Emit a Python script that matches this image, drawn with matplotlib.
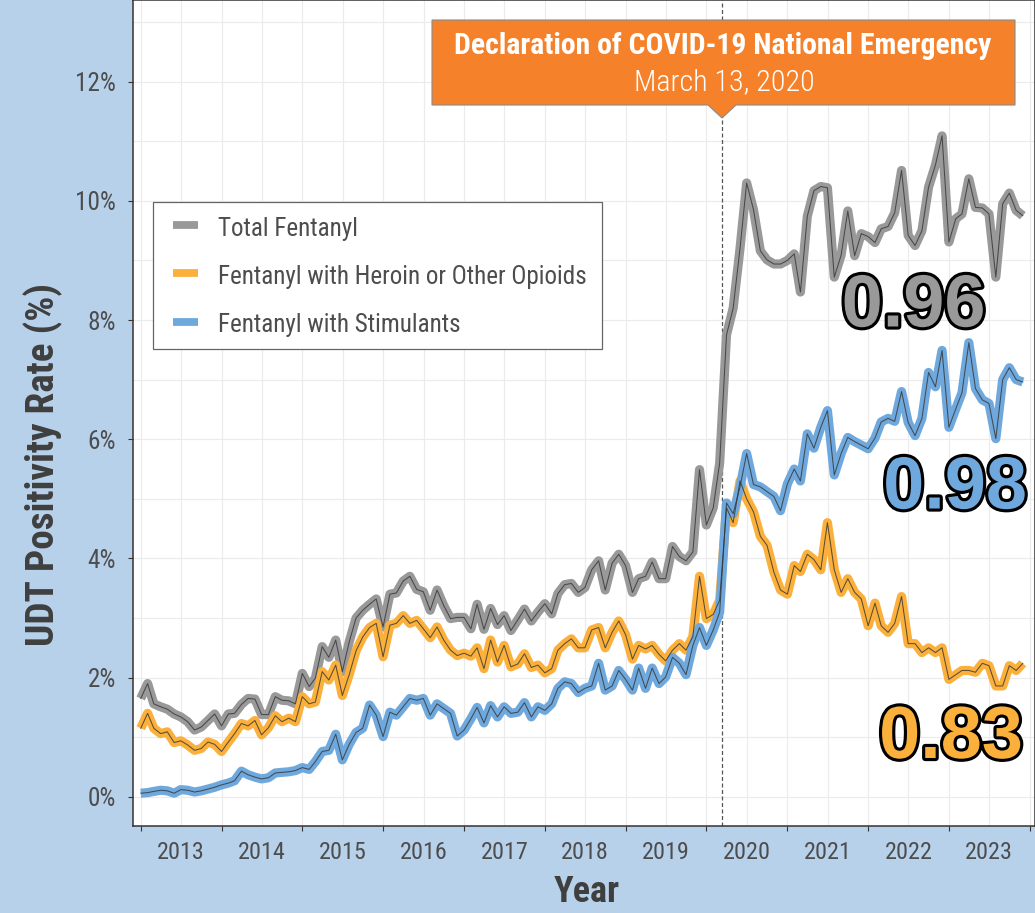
import numpy as np
import pandas as pd
import matplotlib
matplotlib.use("Agg")
import matplotlib.pyplot as plt
import matplotlib.dates as mdates
import matplotlib.ticker as mticker
import matplotlib.font_manager as fm
import matplotlib.patheffects as pe
from matplotlib.textpath import TextPath
from matplotlib.patches import Polygon, Rectangle
from matplotlib.lines import Line2D

# ------------------------------------------------------------------ data
first_month = "2013-01-01"          # monthly series, Jan 2013 .. Dec 2023

total_fentanyl = [
    1.65, 1.90, 1.56, 1.51, 1.47, 1.39, 1.34, 1.26, 1.12, 1.17, 1.28, 1.39,   # 2013
    1.19, 1.39, 1.40, 1.55, 1.65, 1.64, 1.38, 1.38, 1.68, 1.62, 1.61, 1.56,   # 2014
    2.07, 1.85, 1.99, 2.52, 2.34, 2.63, 2.10, 2.60, 3.00, 3.13, 3.23, 3.32,   # 2015
    2.85, 3.40, 3.42, 3.62, 3.70, 3.48, 3.44, 3.13, 3.47, 3.21, 2.99, 3.01,   # 2016
    3.01, 2.82, 3.23, 2.81, 3.16, 2.89, 3.04, 2.79, 2.97, 3.15, 2.95, 3.10,   # 2017
    3.24, 3.07, 3.41, 3.56, 3.58, 3.43, 3.51, 3.81, 3.96, 3.47, 3.92, 4.07,   # 2018
    3.88, 3.43, 3.66, 3.70, 3.94, 3.66, 3.66, 4.20, 4.03, 3.96, 4.11, 5.49,   # 2019
    4.56, 4.85, 5.60, 7.75, 8.20, 9.20, 10.30, 9.85, 9.16, 9.01, 8.94, 8.94,  # 2020
    9.00, 9.11, 8.47, 9.74, 10.17, 10.24, 10.22, 8.72, 9.09, 9.83, 9.08, 9.45,  # 2021
    9.40, 9.30, 9.53, 9.57, 9.80, 10.51, 9.42, 9.25, 9.50, 10.23, 10.60, 11.09,  # 2022
    9.31, 9.70, 9.78, 10.37, 9.89, 9.88, 9.78, 8.72, 9.95, 10.13, 9.84, 9.75,  # 2023
]

fentanyl_heroin_opioids = [
    1.15, 1.40, 1.15, 1.06, 1.09, 0.91, 0.94, 0.87, 0.78, 0.81, 0.92, 0.88,   # 2013
    0.76, 0.92, 1.06, 1.23, 1.19, 1.28, 1.04, 1.16, 1.36, 1.26, 1.32, 1.26,   # 2014
    1.68, 1.56, 1.59, 2.10, 1.96, 2.21, 1.70, 2.05, 2.45, 2.68, 2.84, 2.91,   # 2015
    2.35, 2.88, 2.91, 3.04, 2.91, 2.96, 2.82, 2.67, 2.85, 2.63, 2.46, 2.37,   # 2016
    2.41, 2.36, 2.50, 2.15, 2.63, 2.26, 2.54, 2.18, 2.23, 2.40, 2.17, 2.21,   # 2017
    2.08, 2.15, 2.46, 2.57, 2.65, 2.50, 2.50, 2.80, 2.84, 2.50, 2.76, 2.95,   # 2018
    2.72, 2.31, 2.54, 2.48, 2.54, 2.39, 2.28, 2.46, 2.57, 2.46, 2.69, 3.70,   # 2019
    2.99, 3.06, 3.30, 4.85, 4.60, 5.30, 5.00, 4.78, 4.37, 4.22, 3.77, 3.47,   # 2020
    3.40, 3.88, 3.78, 4.07, 3.98, 3.81, 4.60, 3.81, 3.43, 3.66, 3.43, 3.32,   # 2021
    2.87, 3.25, 2.87, 2.76, 2.91, 3.36, 2.57, 2.57, 2.42, 2.50, 2.42, 2.50,   # 2022
    1.97, 2.05, 2.12, 2.12, 2.09, 2.24, 2.20, 1.86, 1.86, 2.20, 2.12, 2.24,   # 2023
]

fentanyl_stimulants = [
    0.06, 0.07, 0.09, 0.11, 0.10, 0.06, 0.12, 0.11, 0.08, 0.10, 0.13, 0.16,   # 2013
    0.20, 0.23, 0.27, 0.43, 0.37, 0.33, 0.30, 0.32, 0.40, 0.41, 0.42, 0.44,   # 2014
    0.49, 0.46, 0.59, 0.76, 0.78, 1.05, 0.62, 0.88, 1.08, 1.15, 1.54, 1.37,   # 2015
    1.01, 1.42, 1.37, 1.51, 1.65, 1.62, 1.65, 1.37, 1.56, 1.48, 1.40, 1.02,   # 2016
    1.12, 1.31, 1.50, 1.24, 1.53, 1.34, 1.51, 1.40, 1.42, 1.58, 1.34, 1.51,   # 2017
    1.45, 1.56, 1.82, 1.93, 1.90, 1.75, 1.82, 1.86, 2.24, 1.79, 1.86, 2.12,   # 2018
    1.97, 1.79, 2.16, 1.82, 2.16, 1.90, 2.01, 2.34, 2.24, 2.05, 2.54, 2.84,   # 2019
    2.54, 2.80, 3.10, 4.93, 4.75, 5.20, 5.76, 5.24, 5.20, 5.12, 5.04, 4.80,   # 2020
    5.25, 5.50, 5.30, 6.09, 5.85, 6.20, 6.48, 5.40, 5.76, 6.03, 5.96, 5.90,   # 2021
    5.84, 6.02, 6.29, 6.35, 6.30, 6.80, 6.28, 6.06, 6.35, 7.12, 6.88, 7.49,   # 2022
    6.20, 6.51, 6.78, 7.62, 6.85, 6.66, 6.60, 6.01, 7.00, 7.20, 7.00, 6.96,   # 2023
]

series_labels = ["Total Fentanyl",
                 "Fentanyl with Heroin or Other Opioids",
                 "Fentanyl with Stimulants"]
correlation_labels = ["0.96", "0.83", "0.98"]
emergency_date = "2020-03-13"
emergency_title = "Declaration of COVID-19 National Emergency"
emergency_subtitle = "March 13, 2020"
y_label = "UDT Positivity Rate (%)"
x_label = "Year"

# ------------------------------------------------------------------ style
COLORS = ["#999999", "#fbb03b", "#6fa8dc"]
BG = "#b8d1eb"
BOX = "#f5822a"
TXT = "#4d4d4d"
LAB = "#3f3f3f"

W, H = 1035, 913
AX_L, AX_R, AX_T, AX_B = 133, 1035, 0, 826     # axes box in pixels (from top)


def fx(px):
    return (px - AX_L) / (AX_R - AX_L)


def fy(py):
    return (AX_B - py) / (AX_B - AX_T)


# ------------------------------------------------------------------ fonts
def _weight(e):
    w = e.weight
    if isinstance(w, str):
        w = fm.weight_dict.get(w, 400)
    try:
        return int(w)
    except Exception:
        return 400


def _is_cond(e):
    st = str(e.stretch).lower()
    nm = e.name.lower()
    if "condensed" in st or "narrow" in nm or "condensed" in nm:
        return True
    if isinstance(e.stretch, (int, float)) and e.stretch < 500:
        return True
    return False


_ENTRIES = [e for e in fm.fontManager.ttflist
            if e.style == "normal" and e.fname.lower().endswith((".ttf", ".otf"))]


def pick_condensed(weight):
    prefs = ("Liberation Sans Narrow", "Roboto Condensed", "Open Sans Condensed",
             "Noto Sans Condensed", "Noto Sans", "Open Sans", "DejaVu Sans",
             "Lato", "Roboto", "Inter")
    for fam in prefs:
        c = [e for e in _ENTRIES if e.name == fam and _is_cond(e)]
        if c:
            best = min(c, key=lambda e: abs(_weight(e) - weight))
            return fm.FontProperties(fname=best.fname)
    for fam in ("Roboto", "Noto Sans", "DejaVu Sans"):
        c = [e for e in _ENTRIES if e.name == fam]
        if c:
            best = min(c, key=lambda e: abs(_weight(e) - weight))
            return fm.FontProperties(fname=best.fname)
    return fm.FontProperties(family="DejaVu Sans", weight=weight)


def _measure(s, fp):
    f = fp.copy()
    f.set_size(100)
    ext = TextPath((0, 0), s, prop=f).get_extents()
    return ext.width, ext.height


def fit(s, fp, w_px, h_px=None, href="H"):
    w, _ = _measure(s, fp)
    size_w = 100 * w_px * 0.72 / w
    if h_px is None:
        return size_w
    _, h = _measure(href, fp)
    size_h = 100 * h_px * 0.72 / h
    return (size_w * size_h) ** 0.5


def sized(fp, size):
    f = fp.copy()
    f.set_size(size)
    return f


fp_reg = pick_condensed(400)
fp_bold = pick_condensed(700)
fp_light = pick_condensed(300)
fp_num = fm.FontProperties(family=["Liberation Sans", "Arimo", "DejaVu Sans"],
                           weight="bold")

fp_xt = sized(fp_reg, fit("2013", fp_reg, 50.7, 15.7, "0"))
fp_yt = sized(fp_reg, fit("10%", fp_reg, 41.7, 16.7, "0"))
fs_leg = fit(series_labels[1], fp_reg, 367)
fp_leg = sized(fp_reg, fs_leg)
fp_ylab = sized(fp_bold, fit(y_label, fp_bold, 358, 28))
fp_xlab = sized(fp_bold, fit(x_label, fp_bold, 67, 25))
fp_title = sized(fp_bold, fit(emergency_title, fp_bold, 569, 20))
fp_sub = sized(fp_light, fit(emergency_subtitle, fp_light, 173, 21.7))
fp_big = sized(fp_num, fit("0.96", fp_num, 139, 52, "0"))

# ------------------------------------------------------------------ figure
dates = pd.date_range(first_month, periods=len(total_fentanyl), freq="MS")
series = [total_fentanyl, fentanyl_heroin_opioids, fentanyl_stimulants]

fig = plt.figure(figsize=(W / 100, H / 100), dpi=100, facecolor=BG)
ax = fig.add_axes([AX_L / W, (H - AX_B) / H, (AX_R - AX_L) / W, (AX_B - AX_T) / H])
ax.set_facecolor("white")
ax.set_axisbelow(True)

for vals, col in zip(series, COLORS):
    ax.plot(dates, vals, color=col, lw=6.6, solid_capstyle="butt",
            solid_joinstyle="round", zorder=3)
for vals in series:
    ax.plot(dates, vals, color="#333333", lw=0.75, alpha=0.8,
            solid_joinstyle="round", zorder=4)

ax.axvline(pd.Timestamp(emergency_date), color="#555555", lw=0.9,
           ls=(0, (3.2, 2.0)), zorder=2.5)

# axes limits
ax.set_xlim(pd.Timestamp("2012-11-27"), pd.Timestamp("2024-01-25"))
ax.set_ylim(-0.49, 13.37)

# ticks
ax.xaxis.set_major_locator(mdates.YearLocator(1, month=1, day=1))
ax.xaxis.set_major_formatter(mticker.NullFormatter())
ax.xaxis.set_minor_locator(mdates.YearLocator(1, month=7, day=2))
ax.xaxis.set_minor_formatter(mdates.DateFormatter("%Y"))
ax.yaxis.set_major_locator(mticker.MultipleLocator(2))
ax.yaxis.set_minor_locator(mticker.MultipleLocator(1))
ax.yaxis.set_major_formatter(mticker.PercentFormatter(decimals=0))

ax.tick_params(which="major", direction="out", length=3.8, width=0.8,
               color="#333333", labelcolor=TXT)
ax.tick_params(axis="y", which="major", pad=8.5)
ax.tick_params(which="minor", length=0, labelcolor=TXT)
ax.tick_params(axis="x", which="minor", pad=11)

ax.grid(which="both", color="#ebebeb", lw=0.85)

for sp in ax.spines.values():
    sp.set_color("#333333")
    sp.set_linewidth(1.1)

for lab in ax.get_xticklabels(minor=True):
    lab.set_fontproperties(fp_xt)
for lab in ax.get_yticklabels():
    lab.set_fontproperties(fp_yt)

# axis labels
ax.set_ylabel(y_label, fontproperties=fp_ylab, color=LAB)
ax.yaxis.label.set_verticalalignment("baseline")
ax.yaxis.set_label_coords(fx(54), fy(464))
ax.set_xlabel(x_label, fontproperties=fp_xlab, color=LAB)
ax.xaxis.label.set_verticalalignment("baseline")
ax.xaxis.set_label_coords(fx(586.5), fy(902))

# legend (frame drawn separately so the key inset matches)
frame = Rectangle((fx(153), fy(349)), fx(602) - fx(153), fy(202) - fy(349),
                  transform=ax.transAxes, facecolor="white", edgecolor="#666666",
                  lw=0.9, zorder=4.8)
ax.add_patch(frame)
fs_px = fs_leg * 100 / 72
handles = [Line2D([], [], color=c, lw=5.6, solid_capstyle="butt") for c in COLORS]
leg = ax.legend(handles, series_labels, loc="upper left",
                bbox_to_anchor=(fx(173), fy(214)), bbox_transform=ax.transAxes,
                borderaxespad=0, prop=fp_leg, frameon=False,
                handlelength=25 / fs_px, handleheight=31 / fs_px,
                handletextpad=20 / fs_px, borderpad=0,
                labelspacing=21.8 / fs_px)
for t in leg.get_texts():
    t.set_color(TXT)
leg.set_zorder(5)

# emergency call-out box
L, R, T, B = fx(432), fx(1015), fy(20), fy(105)
tipx, tipy, hw = fx(722), fy(118), 14 / (AX_R - AX_L)
box = Polygon([(L, T), (R, T), (R, B), (tipx + hw, B), (tipx, tipy),
               (tipx - hw, B), (L, B)], closed=True, transform=ax.transAxes,
              facecolor=BOX, edgecolor="#8a8a8a", lw=0.8, zorder=6, clip_on=False)
ax.add_patch(box)
ax.text(fx(723), fy(53.5), emergency_title, transform=ax.transAxes,
        ha="center", va="baseline", color="white", fontproperties=fp_title, zorder=7)
ax.text(fx(724), fy(90), emergency_subtitle, transform=ax.transAxes,
        ha="center", va="baseline", color="white", fontproperties=fp_sub, zorder=7)

# correlation labels
stroke = [pe.Stroke(linewidth=4.5, foreground="black"), pe.Normal()]
num_pos = [(913.5, 326.5), (951, 758), (955, 508.5)]
for txt, col, (px, py) in zip(correlation_labels, COLORS, num_pos):
    ax.text(fx(px), fy(py), txt, transform=ax.transAxes, ha="center", va="baseline",
            color=col, fontproperties=fp_big, zorder=8, path_effects=stroke)

fig.savefig("out.png", dpi=100, facecolor=BG)
